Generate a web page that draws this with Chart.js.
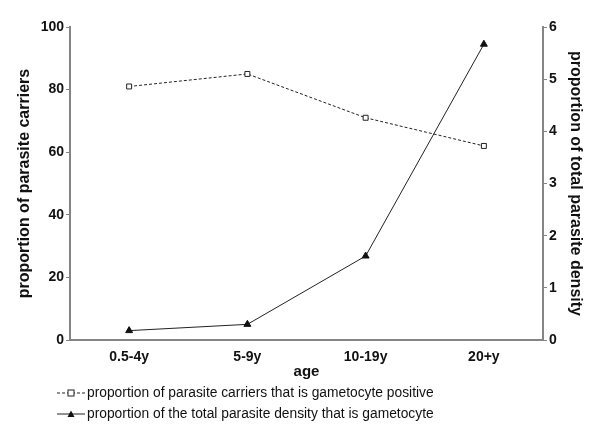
<!DOCTYPE html>
<html>
<head>
<meta charset="utf-8">
<script src="https://cdn.jsdelivr.net/npm/chart.js@4"></script>
<style>
  body { margin: 0; background: #fff; }
  #wrap { position: relative; width: 600px; height: 435px; }
  #legend { position: absolute; left: 57px; top: 382px; font: 13.8px "Liberation Sans", Arial, sans-serif; color: #111; }
  .row { display: flex; align-items: center; height: 21px; }
  .row svg { margin-right: 2px; }
</style>
</head>
<body>
<div id="wrap">
  <canvas id="chart" width="600" height="435"></canvas>
  <div id="legend">
    <div class="row">
      <svg width="28" height="10"><line x1="0" y1="5" x2="28" y2="5" stroke="#222" stroke-width="1" stroke-dasharray="3,2"/><rect x="11" y="2" width="6" height="6" fill="#fff" stroke="#222"/></svg>
      <span>proportion of parasite carriers that is gametocyte positive</span>
    </div>
    <div class="row">
      <svg width="28" height="10"><line x1="0" y1="5" x2="28" y2="5" stroke="#222" stroke-width="1"/><polygon points="14,1.5 17.5,8 10.5,8" fill="#111"/></svg>
      <span>proportion of the total parasite density that is gametocyte</span>
    </div>
  </div>
</div>
<script>
// категории и значения
const ageGroups = ['0.5-4y', '5-9y', '10-19y', '20+y'];
const carriersPositive = [81, 85, 71, 62];      // левая ось, %
const densityGametocyte = [0.18, 0.3, 1.61, 5.67]; // правая ось

const axisGray = '#858585';
const fontFamily = '"Liberation Sans", Arial, sans-serif';
const tickFont = { family: fontFamily, size: 14, weight: 'bold' };
const titleFont = { family: fontFamily, size: 16, weight: 'bold' };

new Chart(document.getElementById('chart'), {
  type: 'line',
  data: {
    labels: ageGroups,
    datasets: [
      {
        label: 'proportion of parasite carriers that is gametocyte positive',
        data: carriersPositive,
        yAxisID: 'y',
        borderColor: '#222',
        borderWidth: 1,
        borderDash: [3, 2],
        pointStyle: 'rect',
        pointRadius: 3.5,
        pointBackgroundColor: '#fff',
        pointBorderColor: '#222',
        pointBorderWidth: 1,
        tension: 0
      },
      {
        label: 'proportion of the total parasite density that is gametocyte',
        data: densityGametocyte,
        yAxisID: 'y1',
        borderColor: '#222',
        borderWidth: 1,
        pointStyle: 'triangle',
        pointRadius: 4,
        pointBackgroundColor: '#111',
        pointBorderColor: '#111',
        pointBorderWidth: 1,
        tension: 0
      }
    ]
  },
  options: {
    responsive: false,
    animation: false,
    layout: { padding: { top: 27, bottom: 50, left: 0, right: 0 } },
    plugins: {
      legend: { display: false },
      tooltip: { enabled: false }
    },
    scales: {
      x: {
        offset: true,
        grid: { display: false, drawTicks: false },
        border: { color: axisGray, width: 2 },
        ticks: { padding: 9, color: '#111', font: tickFont },
        title: { display: true, text: 'age', color: '#111', padding: { top: 0, bottom: 4 },
                 font: { family: fontFamily, size: 15, weight: 'bold' } },
        afterFit: (scale) => { scale.height = 45; }
      },
      y: {
        position: 'left',
        min: 0, max: 100,
        ticks: { stepSize: 20, padding: 2, color: '#111', font: tickFont },
        grid: { drawOnChartArea: false, color: axisGray, tickLength: 4, tickWidth: 1 },
        border: { color: axisGray, width: 2 },
        title: { display: true, text: 'proportion of parasite carriers', color: '#111', padding: { top: 15, bottom: 0 },
                 font: titleFont },
        afterFit: (scale) => { scale.width = 70; }
      },
      y1: {
        position: 'right',
        min: 0, max: 6,
        ticks: { stepSize: 1, padding: 2, color: '#111', font: tickFont },
        grid: { drawOnChartArea: false, color: axisGray, tickLength: 4, tickWidth: 1 },
        border: { color: axisGray, width: 2 },
        title: { display: true, text: 'proportion of total parasite density', color: '#111', padding: { top: 15, bottom: 0 },
                 font: titleFont },
        afterFit: (scale) => { scale.width = 57; }
      }
    }
  }
});
</script>
</body>
</html>
